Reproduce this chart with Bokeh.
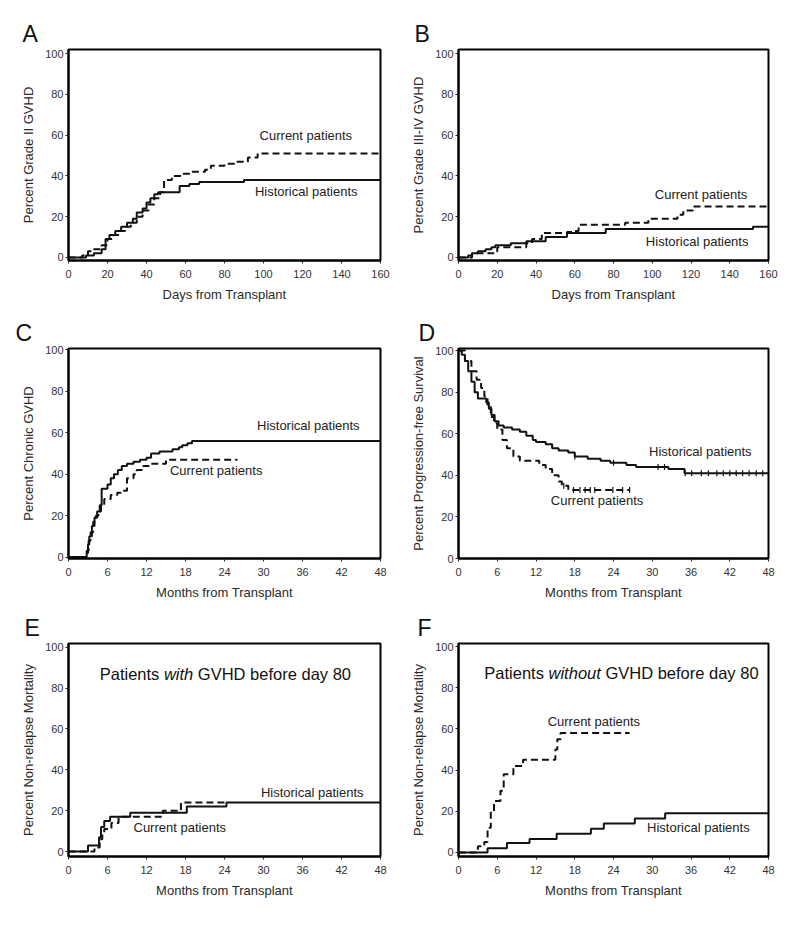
import math
from bokeh.plotting import figure
from bokeh.layouts import gridplot
from bokeh.models import Label, Range1d, FixedTicker
from bokeh.embed import file_html
from bokeh.resources import INLINE

FONT = "Liberation Sans"

# ---------------- data ----------------
# A: Grade II GVHD (days)
a_hist_x = [0, 9, 13, 17, 19, 21, 24, 27, 30, 33, 35, 38, 40, 42, 44, 46, 57, 62, 67, 90, 160]
a_hist_y = [0, 1, 2, 4, 9, 11, 13, 15, 17, 19, 22, 24, 27, 29, 31, 32, 35, 36, 37, 38, 38]
a_curr_x = [0, 7, 10, 13, 17, 20, 23, 26, 29, 32, 35, 38, 41, 44, 47, 49, 53, 58, 63, 70, 73, 80, 86, 92, 97, 160]
a_curr_y = [0, 1, 3, 4, 6, 9, 11, 13, 15, 17, 20, 23, 26, 29, 32, 38, 40, 41, 42, 43, 45, 46, 47, 49, 51, 51]

# B: Grade III-IV GVHD (days)
b_hist_x = [0, 5, 7, 10, 14, 17, 19, 27, 35, 45, 56, 76, 152, 160]
b_hist_y = [0, 1, 2, 3, 4, 5, 6, 7, 8, 10, 12, 14, 15, 15]
b_curr_x = [0, 7, 18, 20, 35, 38, 43, 56, 60, 62, 86, 98, 113, 116, 121, 160]
b_curr_y = [0, 2, 3, 5, 7, 9, 12, 12.5, 13, 16, 17, 19, 21, 23, 25, 25]

# C: Chronic GVHD (months)
c_hist_x = [0, 2.8, 3.0, 3.2, 3.6, 4.0, 4.4, 4.8, 5.1, 6.0, 6.5, 7.0, 7.6, 8.2, 9.0, 10.0, 11.0, 12.0, 12.7, 14.0, 16.0, 17.0, 17.5, 18.3, 19.0, 48]
c_hist_y = [0, 2, 6, 10, 15, 19, 22, 25, 33, 35, 38, 40, 42, 44, 45, 46, 47, 48, 50, 51, 52, 53, 54, 55, 56, 56]
c_curr_x = [0, 2.8, 3.1, 3.4, 3.8, 4.2, 4.6, 5.0, 5.5, 6.5, 7.5, 8.5, 9.0, 10.0, 10.5, 11.5, 12.5, 15.0, 26.0]
c_curr_y = [0, 3, 8, 12, 17, 20, 22, 25, 28, 30, 31, 32, 38, 40, 42, 44, 45, 47, 47]

# D: Progression-free survival (months)
d_hist_x = [0, 0.5, 1, 1.5, 2, 2.5, 3, 4.3, 4.7, 5.1, 5.6, 6.2, 7.0, 8.3, 9.5, 10.5, 11.5, 12.0, 13.5, 14.5, 15.5, 17.0, 18.0, 20.0, 22.0, 23.5, 26.0, 27.5, 32.5, 35.0, 48]
d_hist_y = [100, 98, 95, 90, 85, 80, 77, 75, 72, 69, 66, 64, 63, 62, 61, 59, 57, 56, 55, 53, 52, 51, 49, 48, 47, 46, 45, 44, 43, 41, 41]
d_curr_x = [0, 1, 2, 2.8, 3.5, 4.0, 4.5, 5.0, 5.5, 6.0, 6.8, 7.5, 8.5, 9.5, 12.5, 13.5, 14.5, 15.5, 16.0, 17.0, 26.5]
d_curr_y = [100, 95, 90, 86, 82, 78, 73, 68, 65, 62, 57, 53, 49, 47, 45, 43, 40, 37, 35, 33, 33]
d_hist_cens = [18, 24, 30.9, 31.9, 35.1, 36.1, 37.6, 38.7, 40.0, 41.0, 42.0, 43.0, 44.0, 45.0, 46.1, 47.1]
d_curr_cens = [16.3, 17.8, 18.8, 19.6, 20.4, 21.1, 23.9, 25.4, 26.5]

# E: NRM, patients with GVHD before day 80 (months)
e_hist_x = [0, 3, 4.7, 5.0, 5.5, 6.4, 9.5, 18.2, 24.3, 48]
e_hist_y = [0, 3, 7, 12, 15, 17, 19, 22, 24, 24]
e_curr_x = [0, 4.0, 4.8, 5.2, 5.5, 6.6, 7.7, 14.5, 17.3, 24]
e_curr_y = [0, 2, 6, 9, 11, 14, 17, 20, 24, 24]

# F: NRM, patients without GVHD before day 80 (months)
f_hist_x = [0, 4.5, 7.5, 11, 15.2, 20.5, 22.5, 27.3, 32, 48]
f_hist_y = [0, 2, 4.5, 6.5, 9, 11.5, 14, 16.5, 19, 19]
f_curr_x = [0, 3.0, 4.0, 4.5, 5.0, 5.5, 6.5, 7.0, 8.5, 10.0, 15.0, 15.3, 15.8, 26.5]
f_curr_y = [0, 3, 5, 12, 20, 25, 30, 38, 42, 45, 50, 55, 58, 58]

day_ticks = [0, 20, 40, 60, 80, 100, 120, 140, 160]
month_ticks = [0, 6, 12, 18, 24, 30, 36, 42, 48]
pct_ticks = [0, 20, 40, 60, 80, 100]

LINE = "#111111"


def step_value(xs, ys, x):
    v = ys[0]
    for xi, yi in zip(xs, ys):
        if xi <= x:
            v = yi
    return v


def panel(letter, w, h, bl, br, bt, bb, xmax, xticks, yr, xlabel, ylabel, loff):
    p = figure(width=w, height=h, min_border_left=bl, min_border_right=br,
               min_border_top=bt, min_border_bottom=bb,
               x_range=Range1d(0, xmax), y_range=Range1d(*yr),
               output_backend="svg", toolbar_location=None)
    p.xgrid.visible = False
    p.ygrid.visible = False
    p.outline_line_color = "black"
    p.outline_line_width = 2
    p.outline_line_alpha = 1
    p.background_fill_color = "white"
    p.border_fill_color = "white"
    p.xaxis.ticker = FixedTicker(ticks=xticks)
    p.yaxis.ticker = FixedTicker(ticks=pct_ticks)
    for ax in (p.xaxis[0], p.yaxis[0]):
        ax.axis_line_width = 2
        ax.axis_line_color = "black"
        ax.major_tick_in = 0
        ax.major_tick_out = 3
        ax.major_tick_line_color = "#222222"
        ax.minor_tick_in = 0
        ax.minor_tick_out = 0
        ax.major_label_text_font = FONT
        ax.major_label_text_font_size = "11px"
        ax.major_label_text_color = "#333333"
        ax.axis_label_text_font = FONT
        ax.axis_label_text_font_size = "13px"
        ax.axis_label_text_font_style = "normal"
        ax.axis_label_text_color = "#2a2a2a"
    p.xaxis.major_label_standoff = 6
    p.xaxis.axis_label_standoff = 6
    p.yaxis.major_label_standoff = 2
    p.yaxis.axis_label_standoff = 6
    p.xaxis.axis_label = xlabel
    p.yaxis.axis_label = ylabel
    p.title.text = letter
    p.title.align = "left"
    p.title.offset = loff
    p.title.standoff = 6
    p.title.text_font = FONT
    p.title.text_font_size = "23px"
    p.title.text_font_style = "normal"
    p.title.text_color = "#111111"
    return p


def note(p, x, y, text):
    p.add_layout(Label(x=x, y=y, text=text, text_font=FONT, text_font_size="13px",
                       text_color="#222222", text_baseline="middle", text_align="left"))


def curves(p, hx, hy, cx, cy):
    p.step(cx, cy, mode="after", line_color=LINE, line_width=2, line_dash="7 4")
    p.step(hx, hy, mode="after", line_color=LINE, line_width=2)


# A
pA = panel("A", 408, 308, 68, 27, 49, 48, 160, day_ticks, (-1.5, 102),
           "Days from Transplant", "Percent Grade II GVHD", -46)
curves(pA, a_hist_x, a_hist_y, a_curr_x, a_curr_y)
note(pA, 98, 60, "Current patients")
note(pA, 95.6, 32.4, "Historical patients")

# B
pB = panel("B", 384, 308, 49, 24, 48, 48, 160, day_ticks, (-1.5, 102),
           "Days from Transplant", "Percent Grade III-IV GVHD", -44)
curves(pB, b_hist_x, b_hist_y, b_curr_x, b_curr_y)
note(pB, 101.3, 31, "Current patients")
note(pB, 96.7, 8, "Historical patients")

# C
pC = panel("C", 408, 295, 63, 27, 40, 45, 48, month_ticks, (-0.7, 100.7),
           "Months from Transplant", "Percent Chronic GVHD", -53)
curves(pC, c_hist_x, c_hist_y, c_curr_x, c_curr_y)
note(pC, 29.0, 63.5, "Historical patients")
note(pC, 15.6, 42, "Current patients")

# D
pD = panel("D", 384, 295, 45, 24, 40, 45, 48, month_ticks, (0, 101),
           "Months from Transplant", "Percent Progression-free Survival", -40)
curves(pD, d_hist_x, d_hist_y, d_curr_x, d_curr_y)
pD.scatter(d_hist_cens, [step_value(d_hist_x, d_hist_y, v) for v in d_hist_cens],
           marker="dash", angle=math.pi / 2, size=6, line_color=LINE, line_width=1.2)
pD.scatter(d_curr_cens, [step_value(d_curr_x, d_curr_y, v) for v in d_curr_cens],
           marker="dash", angle=math.pi / 2, size=6, line_color=LINE, line_width=1.2)
note(pD, 29.5, 51.7, "Historical patients")
note(pD, 14.3, 28, "Current patients")

# E
pE = panel("E", 408, 312, 67, 28, 40, 59, 48, month_ticks, (-2.4, 101.8),
           "Months from Transplant", "Percent Non-relapse Mortality", -44)
curves(pE, e_hist_x, e_hist_y, e_curr_x, e_curr_y)
note(pE, 29.6, 29, "Historical patients")
note(pE, 10.0, 12, "Current patients")

# F
pF = panel("F", 384, 312, 45, 24, 40, 59, 48, month_ticks, (-2, 101.5),
           "Months from Transplant", "Percent Non-relapse Mortality", -41)
curves(pF, f_hist_x, f_hist_y, f_curr_x, f_curr_y)
note(pF, 13.8, 63.5, "Current patients")
note(pF, 29.2, 11.9, "Historical patients")

FS = 16.5
SPACE_EM = 0.278


def title(p, x, y, words):
    off = 0.0
    for txt, style, em in words:
        p.add_layout(Label(x=x, y=y, x_offset=off, text=txt, text_font=FONT,
                           text_font_size=f"{FS}px", text_font_style=style,
                           text_color="#111111", text_baseline="middle", text_align="left"))
        off += (em + SPACE_EM) * FS


title(pE, 4.8, 87, [("Patients", "normal", 3.613), ("with", "italic", 1.778),
                    ("GVHD before day 80", "normal", 0)])
title(pF, 4.0, 87, [("Patients", "normal", 3.613), ("without", "italic", 3.168),
                    ("GVHD before day 80", "normal", 0)])

grid = gridplot([[pA, pB], [pC, pD], [pE, pF]], toolbar_location=None)

open("out.html", "w").write(file_html(grid, INLINE))
